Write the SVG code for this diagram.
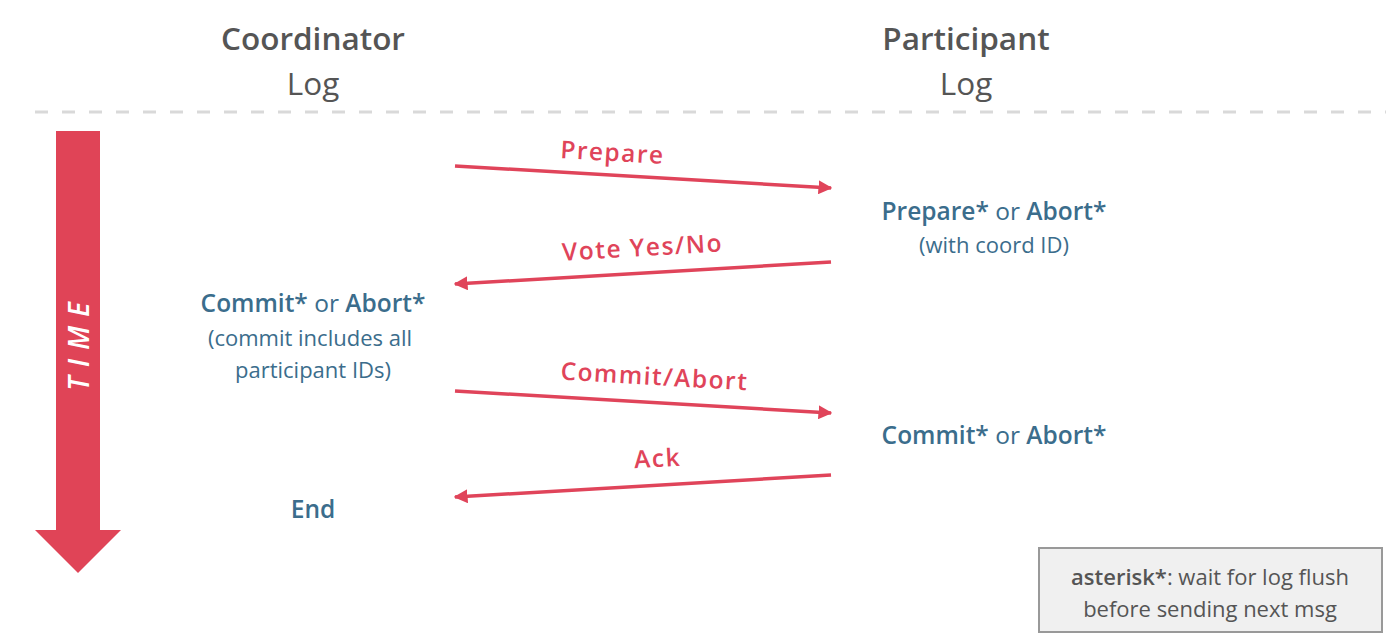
<svg xmlns="http://www.w3.org/2000/svg" width="1392" height="642" viewBox="0 0 1392 642">
<style>
text{font-family:"Open Sans","Noto Sans","Liberation Sans",sans-serif}
.hdr{font-size:31.5px;fill:#555;text-anchor:middle}
.b{font-weight:600}
.node{font-size:24.5px;fill:#3b6d8c;text-anchor:middle}
.sub{font-size:22px;fill:#3b6d8c;text-anchor:middle}
.lbl{font-size:24.5px;fill:#e0445a;text-anchor:middle;letter-spacing:1.5px;font-weight:600}
.msg{stroke:#e0445a;stroke-width:3.5;fill:none;marker-end:url(#ah)}
.note{font-size:22px;fill:#555;text-anchor:middle}
</style>
<defs>
<marker id="ah" viewBox="0 0 10 10" refX="9" refY="5" markerWidth="4" markerHeight="4" orient="auto" markerUnits="strokeWidth">
<path d="M0,0 L10,5 L0,10 z" fill="#e0445a"/>
</marker>
</defs>
<rect width="1392" height="642" fill="#fff"/>
<g id="header-coordinator">
<text class="hdr b" x="313" y="50">Coordinator</text>
<text class="hdr" x="313" y="95">Log</text>
</g>
<g id="header-participant">
<text class="hdr b" x="966" y="50">Participant</text>
<text class="hdr" x="966" y="95">Log</text>
</g>
<line x1="35" y1="112" x2="1386" y2="112" stroke="#d9d9d9" stroke-width="3" stroke-dasharray="13 14"/>
<g id="time-arrow">
<path d="M56,131 H100 V530 H121 L78,573 L35,530 H56 Z" fill="#e04457"/>
<text x="0" y="0" transform="translate(89,342) rotate(-90)" font-size="28" fill="#fff" font-style="italic" font-weight="600" text-anchor="middle" letter-spacing="9">TIME</text>
</g>
<g id="connectors">
<line class="msg" x1="455" y1="166" x2="831" y2="188"/>
<line class="msg" x1="831" y1="262" x2="455" y2="284"/>
<line class="msg" x1="455" y1="391" x2="831" y2="413"/>
<line class="msg" x1="831" y1="475" x2="455" y2="497"/>
<text class="lbl" transform="translate(612,161) rotate(3.3)">Prepare</text>
<text class="lbl" transform="translate(643,256) rotate(-3.3)">Vote Yes/No</text>
<text class="lbl" transform="translate(654,385) rotate(3.3)">Commit/Abort</text>
<text class="lbl" transform="translate(658,467) rotate(-3.3)">Ack</text>
</g>
<g id="participant-prepare">
<text class="node" x="994" y="220"><tspan class="b">Prepare*</tspan> or <tspan class="b">Abort*</tspan></text>
<text class="sub" x="994" y="253">(with coord ID)</text>
</g>
<g id="coordinator-commit">
<text class="node" x="313" y="312"><tspan class="b">Commit*</tspan> or <tspan class="b">Abort*</tspan></text>
<text class="sub" x="310" y="346">(commit includes all</text>
<text class="sub" x="313" y="378">participant IDs)</text>
</g>
<g id="participant-commit">
<text class="node" x="994" y="444"><tspan class="b">Commit*</tspan> or <tspan class="b">Abort*</tspan></text>
</g>
<g id="coordinator-end">
<text class="node b" x="313" y="518">End</text>
</g>
<g id="note">
<rect x="1039" y="548" width="343" height="84" fill="#f0f0f0" stroke="#999" stroke-width="2"/>
<text class="note" x="1210" y="585"><tspan class="b">asterisk*</tspan>: wait for log flush</text>
<text class="note" x="1210" y="617">before sending next msg</text>
</g>
</svg>
